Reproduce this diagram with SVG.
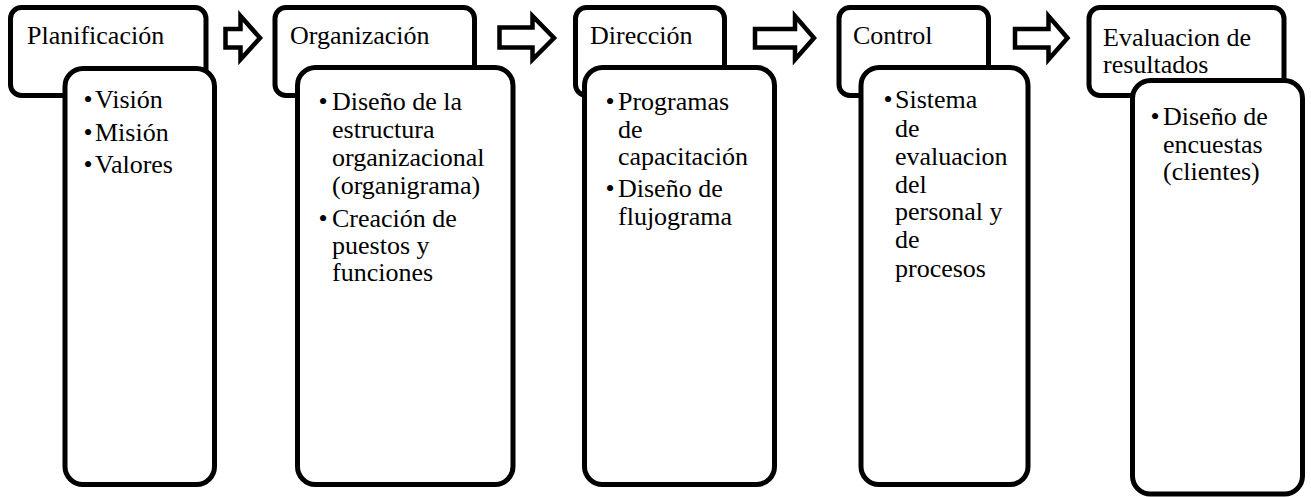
<svg xmlns="http://www.w3.org/2000/svg" width="1311" height="497" viewBox="0 0 1311 497">
  <style>
    .hdr { fill: #ffffff; stroke: #000000; stroke-width: 5; }
    .body { fill: #ffffff; stroke: #000000; stroke-width: 5; }
    .arrow { fill: #ffffff; stroke: #000000; stroke-width: 4.5; stroke-linejoin: miter; stroke-miterlimit: 10; }
    text { font-family: "Liberation Serif", "Times New Roman", serif; font-size: 26px; fill: #000000; }
  </style>
  <rect x="0" y="0" width="1311" height="497" fill="#ffffff"/>

  <g id="node-planificacion">
    <rect class="hdr" x="10.5" y="7.5" width="195.5" height="88" rx="11"/>
    <text x="27" y="44">Planificación</text>
    <rect class="body" x="65" y="68.5" width="149.5" height="416" rx="18"/>
    <text x="83.5" y="108">•</text><text x="95" y="108">Visión</text>
    <text x="83.5" y="140.5">•</text><text x="95" y="140.5">Misión</text>
    <text x="83.5" y="173">•</text><text x="95" y="173">Valores</text>
  </g>

  <g id="node-organizacion">
    <rect class="hdr" x="275" y="7.5" width="199.5" height="88" rx="11"/>
    <text x="290" y="44">Organización</text>
    <rect class="body" x="297.5" y="67.5" width="215.5" height="417" rx="18"/>
    <text x="318.5" y="110">•</text><text x="332" y="110">Diseño de la</text>
    <text x="332" y="138">estructura</text>
    <text x="332" y="166">organizacional</text>
    <text x="332" y="194">(organigrama)</text>
    <text x="318.5" y="227">•</text><text x="332" y="227">Creación de</text>
    <text x="332" y="254">puestos y</text>
    <text x="332" y="281">funciones</text>
  </g>

  <g id="node-direccion">
    <rect class="hdr" x="575.5" y="7.5" width="149" height="88" rx="11"/>
    <text x="590" y="44">Dirección</text>
    <rect class="body" x="584.5" y="67.5" width="190" height="417" rx="18"/>
    <text x="605.5" y="110">•</text><text x="618" y="110">Programas</text>
    <text x="618" y="138">de</text>
    <text x="618" y="165">capacitación</text>
    <text x="605.5" y="197">•</text><text x="618" y="197">Diseño de</text>
    <text x="618" y="225">flujograma</text>
  </g>

  <g id="node-control">
    <rect class="hdr" x="839" y="7.5" width="149.5" height="88" rx="11"/>
    <text x="853" y="44">Control</text>
    <rect class="body" x="861" y="67.5" width="167" height="417" rx="18"/>
    <text x="883.5" y="108">•</text><text x="895" y="108">Sistema</text>
    <text x="895" y="137">de</text>
    <text x="895" y="165">evaluacion</text>
    <text x="895" y="193">del</text>
    <text x="895" y="220">personal y</text>
    <text x="895" y="248">de</text>
    <text x="895" y="277">procesos</text>
  </g>

  <g id="node-evaluacion">
    <rect class="hdr" x="1089" y="7.5" width="195" height="88" rx="11"/>
    <text x="1103" y="45.5">Evaluacion de</text>
    <text x="1103" y="72.5">resultados</text>
    <rect class="body" x="1132.5" y="80.5" width="170" height="413.5" rx="18"/>
    <text x="1150.5" y="125">•</text><text x="1163" y="125">Diseño de</text>
    <text x="1163" y="153">encuestas</text>
    <text x="1163" y="180">(clientes)</text>
  </g>

  <g id="connectors">
    <polygon class="arrow" points="225.5,29 240.5,29 240.5,16 260,38 240.5,59.5 240.5,47.5 225.5,47.5"/>
    <polygon class="arrow" points="499.5,27.5 532.5,27.5 532.5,16 554,38 532.5,59.5 532.5,47.5 499.5,47.5"/>
    <polygon class="arrow" points="755,29 795,29 795,16 814,38 795,59.5 795,47.5 755,47.5"/>
    <polygon class="arrow" points="1015,29 1048.5,29 1048.5,16 1067.5,38 1048.5,59.5 1048.5,47.5 1015,47.5"/>
  </g>
</svg>
